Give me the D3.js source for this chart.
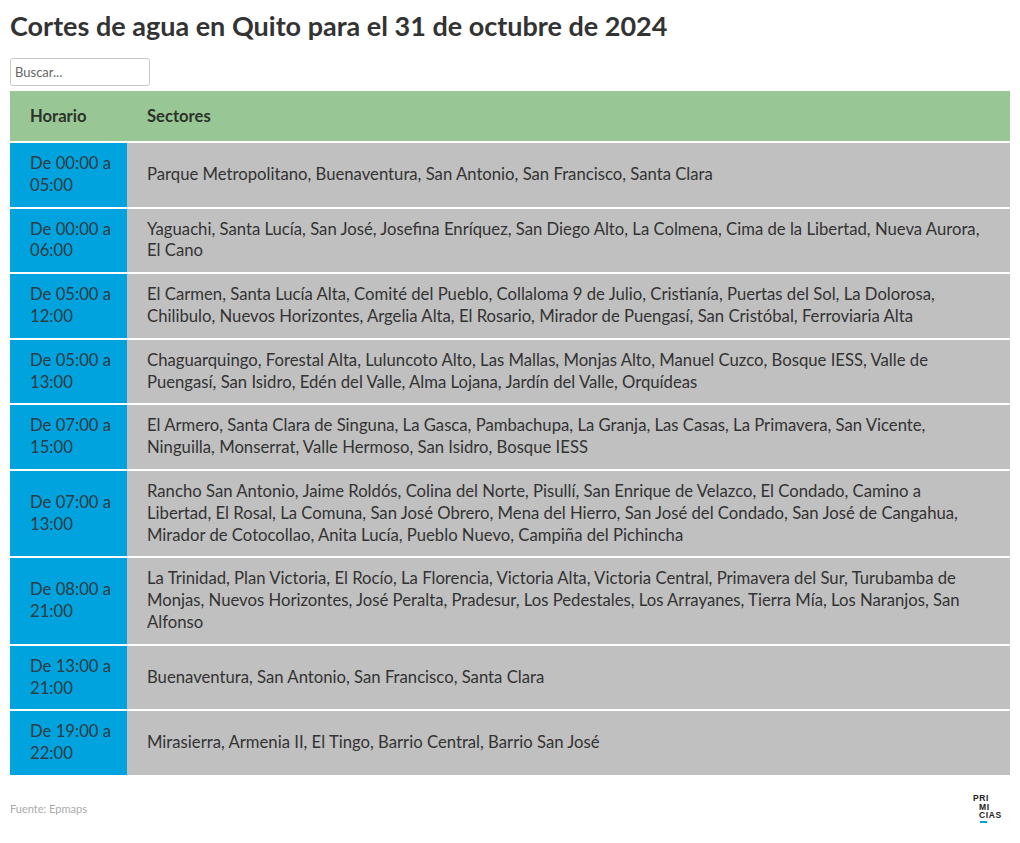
<!DOCTYPE html>
<html>
<head>
<meta charset="utf-8">
<title>Cortes de agua en Quito</title>
<script src="https://d3js.org/d3.v7.min.js"></script>
<style>
    body { margin: 0; background: #fff; font-family: Lato, sans-serif; color: #333; }
    h1 { position: absolute; left: 10px; top: 8px; margin: 0; font-size: 27px; font-weight: 700; color: #333; line-height: 36px; }
    #buscar { position: absolute; left: 10px; top: 58px; width: 140px; height: 28px; box-sizing: border-box;
              border: 1px solid #c8c8c8; border-radius: 3px; padding: 0 4px; font: 13px Lato, sans-serif; color: #555; }
    #buscar::placeholder { color: #666; }
    table { position: absolute; left: 10px; top: 89px; width: 1000px; border-collapse: separate; border-spacing: 0 2px; }
    th { background: #98c694; text-align: left; font-size: 16.6px; font-weight: 700; color: #2b332b;
         height: 50px; padding: 0 20px; box-sizing: border-box; }
    td { font-size: 16.7px; line-height: 21.8px; padding: 10px 22px 10px 20px; vertical-align: middle; color: #333; }
    td.hora { background: #00a3dd; width: 117px; box-sizing: border-box; padding-right: 8px; color: #2e3b44; }
    td.sect { background: #c0c0c0; }
    .fuente { position: absolute; left: 10px; top: 802px; font-size: 11px; color: #aaa; }
    .logo { position: absolute; left: 973px; top: 794px; font: 700 8.5px/8.5px "Liberation Sans", sans-serif; color: #222; letter-spacing: 0.6px; }
    .logo span { display: block; }
    .logo .bar { width: 7px; height: 2px; background: #00a3dd; margin: 1px 0 0 7px; }
</style>
</head>
<body>
<h1>Cortes de agua en Quito para el 31 de octubre de 2024</h1>
<input id="buscar" type="text" placeholder="Buscar...">
<table id="tabla"></table>
<div class="fuente">Fuente: Epmaps</div>
<div class="logo"><span>PRI</span><span style="padding-left:6px">MI</span><span style="padding-left:6px">CIAS</span><div class="bar"></div></div>

<script>
// columnas
const columnas = ["Horario", "Sectores"];

// horarios de corte
const horarios = [
    "De 00:00 a 05:00",
    "De 00:00 a 06:00",
    "De 05:00 a 12:00",
    "De 05:00 a 13:00",
    "De 07:00 a 15:00",
    "De 07:00 a 13:00",
    "De 08:00 a 21:00",
    "De 13:00 a 21:00",
    "De 19:00 a 22:00"
];

// sectores afectados
const sectores = [
    "Parque Metropolitano, Buenaventura, San Antonio, San Francisco, Santa Clara",
    "Yaguachi, Santa Lucía, San José, Josefina Enríquez, San Diego Alto, La Colmena, Cima de la Libertad, Nueva Aurora, El Cano",
    "El Carmen, Santa Lucía Alta, Comité del Pueblo, Collaloma 9 de Julio, Cristianía, Puertas del Sol, La Dolorosa, Chilibulo, Nuevos Horizontes, Argelia Alta, El Rosario, Mirador de Puengasí, San Cristóbal, Ferroviaria Alta",
    "Chaguarquingo, Forestal Alta, Luluncoto Alto, Las Mallas, Monjas Alto, Manuel Cuzco, Bosque IESS, Valle de Puengasí, San Isidro, Edén del Valle, Alma Lojana, Jardín del Valle, Orquídeas",
    "El Armero, Santa Clara de Singuna, La Gasca, Pambachupa, La Granja, Las Casas, La Primavera, San Vicente, Ninguilla, Monserrat, Valle Hermoso, San Isidro, Bosque IESS",
    "Rancho San Antonio, Jaime Roldós, Colina del Norte, Pisullí, San Enrique de Velazco, El Condado, Camino a Libertad, El Rosal, La Comuna, San José Obrero, Mena del Hierro, San José del Condado, San José de Cangahua, Mirador de Cotocollao, Anita Lucía, Pueblo Nuevo, Campiña del Pichincha",
    "La Trinidad, Plan Victoria, El Rocío, La Florencia, Victoria Alta, Victoria Central, Primavera del Sur, Turubamba de Monjas, Nuevos Horizontes, José Peralta, Pradesur, Los Pedestales, Los Arrayanes, Tierra Mía, Los Naranjos, San Alfonso",
    "Buenaventura, San Antonio, San Francisco, Santa Clara",
    "Mirasierra, Armenia II, El Tingo, Barrio Central, Barrio San José"
];

const filas = horarios.map((h, i) => ({ horario: h, sectores: sectores[i] }));

const tabla = d3.select("#tabla");

tabla.append("thead").append("tr")
    .selectAll("th")
    .data(columnas)
    .join("th")
    .style("width", (d, i) => i === 0 ? "117px" : null)
    .text(d => d);

const tbody = tabla.append("tbody");

function dibujar(datos) {
    const tr = tbody.selectAll("tr")
        .data(datos, d => d.horario + d.sectores)
        .join("tr");
    tr.selectAll("td").remove();
    tr.append("td").attr("class", "hora").text(d => d.horario);
    tr.append("td").attr("class", "sect").text(d => d.sectores);
}

d3.select("#buscar").on("input", function() {
    const q = this.value.toLowerCase();
    dibujar(filas.filter(d => (d.horario + " " + d.sectores).toLowerCase().includes(q)));
});

dibujar(filas);
</script>
</body>
</html>
